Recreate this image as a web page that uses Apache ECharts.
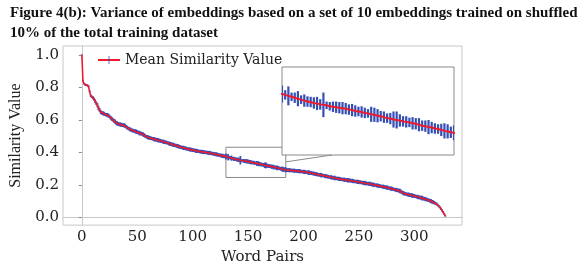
<!DOCTYPE html>
<html>
<head>
<meta charset="utf-8">
<script src="https://cdn.jsdelivr.net/npm/echarts@6/dist/echarts.min.js"></script>
<style>
  html, body { margin: 0; padding: 0; background: #fff; }
  #chart { width: 578px; height: 270px; }
</style>
</head>
<body>
<div id="chart"></div>
<script>
const titleLines = [
  'Figure 4(b): Variance of embeddings based on a set of 10 embeddings trained on shuffled',
  '10% of the total training dataset'
];
const seriesName = 'Mean Similarity Value';
const xName = 'Word Pairs';
const yName = 'Similarity Value';
const xTicks = [0, 50, 100, 150, 200, 250, 300];
const yTicks = [0, 0.2, 0.4, 0.6, 0.8, 1.0];

// mean similarity per word pair (index = word pair rank)
const meanSim = [
  1.000,0.840,0.822,0.816,0.814,0.812,0.806,0.775,0.748,0.741,
  0.736,0.727,0.714,0.702,0.690,0.672,0.661,0.648,0.642,0.640,
  0.637,0.633,0.631,0.629,0.626,0.620,0.612,0.606,0.600,0.593,
  0.588,0.581,0.577,0.574,0.572,0.570,0.569,0.567,0.566,0.563,
  0.557,0.551,0.547,0.543,0.539,0.536,0.533,0.531,0.529,0.527,
  0.525,0.521,0.518,0.516,0.514,0.511,0.506,0.501,0.497,0.494,
  0.491,0.489,0.487,0.485,0.483,0.481,0.479,0.478,0.476,0.474,
  0.472,0.470,0.468,0.466,0.464,0.462,0.461,0.459,0.456,0.453,
  0.451,0.449,0.447,0.445,0.443,0.441,0.439,0.437,0.434,0.432,
  0.430,0.428,0.427,0.425,0.423,0.421,0.420,0.418,0.417,0.415,
  0.414,0.412,0.411,0.409,0.408,0.407,0.405,0.404,0.403,0.402,
  0.401,0.400,0.399,0.398,0.397,0.396,0.395,0.393,0.392,0.390,
  0.389,0.388,0.386,0.384,0.383,0.381,0.379,0.378,0.376,0.375,
  0.374,0.372,0.370,0.368,0.366,0.364,0.362,0.360,0.358,0.357,
  0.355,0.354,0.352,0.351,0.350,0.348,0.347,0.346,0.345,0.344,
  0.343,0.341,0.340,0.338,0.337,0.336,0.334,0.333,0.331,0.330,
  0.328,0.327,0.325,0.323,0.322,0.320,0.319,0.318,0.316,0.315,
  0.314,0.312,0.311,0.309,0.307,0.306,0.304,0.303,0.301,0.300,
  0.298,0.296,0.295,0.293,0.292,0.291,0.290,0.290,0.289,0.288,
  0.288,0.287,0.286,0.286,0.285,0.284,0.284,0.283,0.282,0.281,
  0.280,0.279,0.278,0.277,0.276,0.275,0.274,0.272,0.271,0.269,
  0.268,0.266,0.265,0.263,0.262,0.261,0.259,0.258,0.256,0.255,
  0.253,0.252,0.250,0.249,0.247,0.246,0.244,0.243,0.242,0.240,
  0.239,0.238,0.236,0.235,0.234,0.233,0.232,0.231,0.230,0.229,
  0.228,0.227,0.226,0.225,0.224,0.222,0.221,0.220,0.219,0.218,
  0.217,0.216,0.215,0.213,0.212,0.211,0.210,0.208,0.207,0.206,
  0.205,0.203,0.202,0.200,0.199,0.198,0.196,0.195,0.194,0.192,
  0.191,0.189,0.188,0.186,0.185,0.183,0.182,0.180,0.178,0.177,
  0.175,0.173,0.171,0.169,0.168,0.166,0.164,0.162,0.158,0.153,
  0.149,0.146,0.144,0.142,0.140,0.139,0.137,0.136,0.134,0.133,
  0.131,0.129,0.127,0.125,0.123,0.122,0.120,0.118,0.116,0.114,
  0.112,0.110,0.107,0.105,0.102,0.099,0.096,0.093,0.090,0.086,
  0.082,0.076,0.069,0.062,0.052,0.042,0.032,0.020,0.008
];

// half length of the error bar for each word pair
const simErr = [
  0.002,0.004,0.005,0.006,0.006,0.006,0.006,0.007,0.008,0.008,
  0.009,0.010,0.012,0.011,0.013,0.014,0.012,0.013,0.011,0.012,
  0.012,0.010,0.011,0.013,0.012,0.011,0.012,0.013,0.011,0.012,
  0.013,0.012,0.014,0.011,0.012,0.013,0.012,0.011,0.013,0.012,
  0.011,0.012,0.010,0.013,0.012,0.011,0.012,0.010,0.012,0.013,
  0.012,0.011,0.014,0.012,0.011,0.013,0.012,0.011,0.010,0.012,
  0.013,0.011,0.012,0.010,0.011,0.013,0.012,0.011,0.012,0.014,
  0.011,0.012,0.010,0.012,0.013,0.011,0.012,0.010,0.011,0.013,
  0.012,0.011,0.013,0.012,0.010,0.011,0.012,0.013,0.011,0.012,
  0.010,0.012,0.013,0.011,0.012,0.010,0.011,0.012,0.013,0.011,
  0.012,0.010,0.011,0.013,0.012,0.011,0.010,0.012,0.011,0.013,
  0.012,0.011,0.010,0.012,0.011,0.013,0.012,0.010,0.011,0.012,
  0.011,0.013,0.012,0.011,0.010,0.012,0.011,0.013,0.012,0.011,
  0.018,0.010,0.020,0.009,0.011,0.016,0.009,0.013,0.011,0.011,
  0.012,0.014,0.011,0.026,0.008,0.009,0.011,0.012,0.012,0.013,
  0.012,0.011,0.013,0.012,0.010,0.012,0.011,0.009,0.016,0.015,
  0.014,0.011,0.012,0.010,0.012,0.017,0.018,0.013,0.011,0.012,
  0.010,0.013,0.012,0.014,0.011,0.012,0.015,0.012,0.011,0.010,
  0.013,0.016,0.015,0.012,0.016,0.012,0.011,0.013,0.012,0.010,
  0.012,0.011,0.013,0.010,0.012,0.011,0.013,0.012,0.010,0.011,
  0.012,0.013,0.011,0.010,0.012,0.014,0.011,0.012,0.010,0.013,
  0.011,0.012,0.013,0.010,0.011,0.012,0.014,0.011,0.010,0.012,
  0.013,0.011,0.012,0.010,0.011,0.013,0.012,0.011,0.014,0.012,
  0.010,0.011,0.013,0.012,0.011,0.010,0.012,0.013,0.011,0.012,
  0.014,0.011,0.012,0.010,0.013,0.012,0.011,0.010,0.012,0.013,
  0.011,0.012,0.010,0.011,0.013,0.012,0.014,0.011,0.010,0.012,
  0.013,0.011,0.012,0.014,0.011,0.010,0.012,0.013,0.011,0.012,
  0.010,0.011,0.013,0.012,0.011,0.014,0.012,0.010,0.011,0.013,
  0.012,0.011,0.010,0.012,0.013,0.011,0.012,0.014,0.012,0.011,
  0.013,0.012,0.011,0.010,0.012,0.013,0.011,0.012,0.014,0.011,
  0.012,0.010,0.011,0.013,0.012,0.011,0.012,0.014,0.011,0.012,
  0.013,0.011,0.012,0.010,0.012,0.013,0.011,0.012,0.010,0.009,
  0.009,0.008,0.008,0.007,0.007,0.006,0.006,0.005,0.004
];

// zoomed window shown in the inset
const zoomX = [130, 184];
const zoomY = [0.245, 0.431];

const RED = '#ee1a2e';
const BLUE = '#3550b5';
const serif = 'DejaVu Serif';

const lineData = meanSim.map((v, i) => [i, v]);
const errData = meanSim.map((v, i) => [i, v - simErr[i], v + simErr[i]]);

function errBar(width) {
  return function (params, api) {
    const hi = api.coord([api.value(0), api.value(2)]);
    const lo = api.coord([api.value(0), api.value(1)]);
    return {
      type: 'line',
      shape: { x1: hi[0], y1: hi[1], x2: lo[0], y2: lo[1] },
      style: { stroke: BLUE, lineWidth: width }
    };
  };
}

var chart = echarts.init(document.getElementById('chart'));

var option = {
  animation: false,
  title: {
    text: titleLines.join('\n'),
    left: 10,
    top: 3,
    padding: 0,
    textStyle: {
      fontFamily: 'Liberation Serif',
      fontWeight: 'bold',
      fontSize: 15,
      lineHeight: 20,
      color: '#111'
    }
  },
  legend: {
    data: [seriesName],
    left: 97,
    top: 53,
    padding: 0,
    itemWidth: 22,
    itemHeight: 10,
    textStyle: { fontFamily: serif, fontSize: 14, color: '#222' }
  },
  grid: [
    { left: 63, right: 116, top: 46, bottom: 40, show: true,
      borderColor: '#c8c8c8', borderWidth: 1, backgroundColor: 'transparent' },
    { left: 282, top: 67, width: 172, height: 88, show: true, z: 10,
      backgroundColor: '#fff', borderColor: '#8a8a8a', borderWidth: 1 }
  ],
  xAxis: [
    {
      type: 'value', gridIndex: 0, min: -17, max: 343,
      name: xName, nameLocation: 'middle', nameGap: 19,
      nameTextStyle: { fontFamily: serif, fontSize: 15, color: '#222' },
      axisLine: { lineStyle: { color: '#c8c8c8' } },
      axisTick: { show: false },
      axisLabel: { customValues: xTicks, fontFamily: serif, fontSize: 15, color: '#222', margin: 5 },
      splitLine: { show: false }
    },
    { type: 'value', gridIndex: 1, min: zoomX[0], max: zoomX[1], show: false, splitLine: { show: false } }
  ],
  yAxis: [
    {
      type: 'value', gridIndex: 0, min: -0.048, max: 1.054,
      name: yName, nameLocation: 'middle', nameGap: 33,
      nameTextStyle: { fontFamily: 'Liberation Serif', fontSize: 16, color: '#222' },
      axisLine: { show: true, lineStyle: { color: '#c8c8c8' } },
      axisTick: { show: true, customValues: yTicks, length: 3, lineStyle: { color: '#888' } },
      axisLabel: {
        customValues: yTicks, fontFamily: serif, fontSize: 15, color: '#222', margin: 4,
        formatter: v => v.toFixed(1)
      },
      splitLine: { show: false }
    },
    { type: 'value', gridIndex: 1, min: zoomY[0], max: zoomY[1], show: false, splitLine: { show: false } }
  ],
  series: [
    {
      name: 'err', type: 'custom', xAxisIndex: 0, yAxisIndex: 0,
      renderItem: errBar(1.8), encode: { x: 0, y: [1, 2] },
      data: errData, z: 2, silent: true
    },
    {
      name: seriesName, type: 'line', xAxisIndex: 0, yAxisIndex: 0,
      data: lineData, showSymbol: false,
      symbol: 'path://M4.5,0H5.5V4.9H10V5.1H5.5V10H4.5V5.1H0V4.9H4.5Z',
      itemStyle: { color: BLUE },
      lineStyle: { color: RED, width: 1.6 },
      z: 3, silent: true,
      markArea: {
        silent: true,
        itemStyle: { color: 'rgba(0,0,0,0)', borderColor: '#8a8a8a', borderWidth: 1 },
        data: [[{ coord: [zoomX[0], zoomY[0]] }, { coord: [zoomX[1], zoomY[1]] }]]
      }
    },
    {
      name: 'err-inset', type: 'custom', xAxisIndex: 1, yAxisIndex: 1,
      renderItem: errBar(2.2), encode: { x: 0, y: [1, 2] },
      data: errData.filter(d => d[0] >= zoomX[0] - 1 && d[0] <= zoomX[1] + 1),
      clip: true, z: 12, silent: true
    },
    {
      name: 'inset', type: 'line', xAxisIndex: 1, yAxisIndex: 1,
      data: lineData.filter(d => d[0] >= zoomX[0] - 1 && d[0] <= zoomX[1] + 1),
      showSymbol: false, clip: true,
      lineStyle: { color: RED, width: 2 },
      z: 13, silent: true
    }
  ]
};

chart.setOption(option);

// connector from the zoom box to the inset
const from = chart.convertToPixel({ gridIndex: 0 }, [zoomX[1], 0.341]);
const to = chart.convertToPixel({ gridIndex: 1 }, [145.7, zoomY[0]]);
chart.setOption({
  graphic: [{
    type: 'line', z: 20, silent: true,
    shape: { x1: from[0], y1: from[1], x2: to[0], y2: to[1] },
    style: { stroke: '#8a8a8a', lineWidth: 1 }
  }]
});
</script>
</body>
</html>
